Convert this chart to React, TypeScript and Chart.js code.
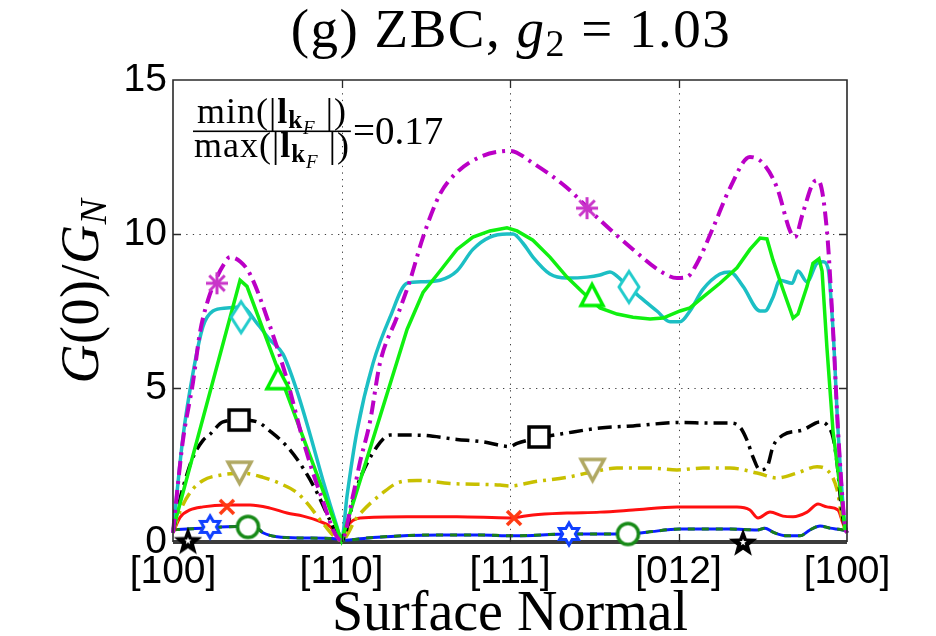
import React, { useEffect, useRef } from 'react';
import { Chart, registerables } from 'chart.js';

Chart.register(...registerables);

const SERIF = '"Liberation Serif", "Times New Roman", serif';
const SANS = '"Liberation Sans", Arial, Helvetica, sans-serif';

const xTickLabels = ['[100]', '[110]', '[111]', '[012]', '[100]'];
const xTickValues = [0, 1, 2, 3, 4];
const yTickValues = [0, 5, 10, 15];

const magentaX = [0, 0.024, 0.059, 0.119, 0.16, 0.208, 0.261, 0.3, 0.338, 0.4, 0.457, 0.576, 0.677, 0.772, 0.872, 1.0, 1.068, 1.11, 1.169, 1.228, 1.329, 1.407, 1.484, 1.585, 1.685, 1.822, 2.0, 2.136, 2.338, 2.534, 2.73, 2.89, 2.991, 3.05, 3.11, 3.205, 3.306, 3.424, 3.501, 3.585, 3.662, 3.691, 3.739, 3.798, 3.828, 3.881, 3.917, 3.947, 3.988, 4.0];
const magentaY = [0.3, 1.6, 3.3, 5.2, 6.8, 7.86, 8.6, 9.0, 9.25, 9.1, 8.7, 7.0, 5.26, 3.3, 1.6, 0.05, 1.5, 2.6, 3.9, 5.8, 7.3, 8.5, 9.9, 11.3, 12.0, 12.5, 12.7, 12.3, 11.5, 10.45, 9.5, 8.8, 8.57, 8.6, 9.05, 10.2, 11.5, 12.5, 12.3, 11.5, 10.1, 9.9, 10.7, 11.65, 11.75, 10.1, 6.9, 3.6, 0.5, 0.3];

const cyanX = [0, 0.059, 0.119, 0.178, 0.237, 0.32, 0.409, 0.499, 0.576, 0.653, 0.736, 0.813, 0.89, 0.973, 1.0, 1.033, 1.092, 1.187, 1.288, 1.389, 1.484, 1.585, 1.685, 1.78, 1.881, 1.982, 2.018, 2.077, 2.136, 2.237, 2.338, 2.457, 2.534, 2.593, 2.671, 2.772, 2.872, 2.95, 3.009, 3.068, 3.145, 3.246, 3.306, 3.383, 3.484, 3.513, 3.561, 3.602, 3.674, 3.709, 3.763, 3.822, 3.858, 3.887, 3.917, 3.947, 3.988, 4.0];
const cyanY = [0.3, 3.4, 5.5, 7.0, 7.5, 7.6, 7.63, 7.1, 6.56, 6.1, 4.9, 3.5, 2.0, 0.5, 0.05, 1.5, 3.6, 5.8, 7.3, 8.4, 8.45, 8.5, 8.8, 9.5, 9.9, 10.0, 10.0, 9.7, 9.25, 8.7, 8.57, 8.6, 8.67, 8.77, 8.45, 7.95, 7.5, 7.15, 7.15, 7.5, 8.2, 8.7, 8.77, 8.3, 7.5, 7.5, 7.95, 8.5, 8.4, 8.8, 8.45, 9.05, 9.1, 8.9, 6.9, 3.6, 0.5, 0.3];

const greenX = [0, 0.398, 0.439, 1.0, 1.389, 1.484, 1.585, 1.685, 1.78, 1.881, 1.982, 2.042, 2.136, 2.237, 2.338, 2.433, 2.534, 2.635, 2.73, 2.831, 2.908, 3.009, 3.068, 3.145, 3.246, 3.347, 3.424, 3.484, 3.525, 3.561, 3.62, 3.68, 3.709, 3.763, 3.798, 3.834, 3.852, 3.881, 3.917, 3.988, 4.0];
const greenY = [0.4, 8.5, 8.3, 0.05, 6.9, 8.1, 8.8, 9.5, 9.9, 10.1, 10.2, 10.1, 9.8, 9.25, 8.6, 8.1, 7.6, 7.4, 7.3, 7.24, 7.27, 7.5, 7.6, 7.95, 8.4, 8.9, 9.5, 9.87, 9.84, 9.15, 8.2, 7.27, 7.4, 8.3, 9.05, 9.2, 8.8, 6.3, 3.6, 0.45, 0.3];

const blackX = [0, 0.042, 0.083, 0.119, 0.178, 0.22, 0.297, 0.398, 0.499, 0.576, 0.677, 0.772, 0.855, 0.932, 1.0, 1.092, 1.211, 1.288, 1.448, 1.685, 1.84, 2.0, 2.042, 2.16, 2.338, 2.534, 2.73, 3.009, 3.187, 3.306, 3.365, 3.407, 3.442, 3.484, 3.525, 3.561, 3.62, 3.739, 3.84, 3.881, 3.917, 3.941, 3.97, 4.0];
const blackY = [0.3, 1.4, 2.2, 2.76, 3.3, 3.5, 3.9, 3.96, 3.9, 3.6, 3.1, 2.4, 1.6, 0.7, 0.05, 1.8, 3.1, 3.47, 3.47, 3.33, 3.25, 3.1, 3.2, 3.37, 3.54, 3.7, 3.77, 3.88, 3.86, 3.86, 3.73, 3.3, 2.76, 2.34, 2.43, 3.1, 3.47, 3.64, 3.9, 3.8, 3.4, 2.56, 0.94, 0.3];

const oliveX = [0, 0.042, 0.101, 0.178, 0.279, 0.415, 0.534, 0.635, 0.736, 0.813, 0.89, 1.0, 1.092, 1.246, 1.347, 1.448, 1.644, 1.941, 2.0, 2.136, 2.338, 2.487, 2.635, 2.831, 2.991, 3.145, 3.306, 3.466, 3.585, 3.703, 3.822, 3.881, 3.941, 3.976, 4.0];
const oliveY = [0.3, 1.0, 1.6, 2.0, 2.17, 2.23, 2.1, 1.9, 1.6, 1.15, 0.6, 0.05, 0.8, 1.6, 1.95, 2.0, 1.9, 1.85, 1.82, 1.95, 2.1, 2.27, 2.4, 2.4, 2.34, 2.4, 2.4, 2.24, 2.08, 2.24, 2.44, 2.34, 1.7, 0.6, 0.3];

const redX = [0, 0.042, 0.101, 0.178, 0.32, 0.457, 0.576, 0.677, 0.772, 0.855, 0.932, 1.0, 1.033, 1.11, 1.389, 1.685, 2.0, 2.136, 2.338, 2.534, 2.73, 2.991, 3.145, 3.347, 3.424, 3.472, 3.543, 3.62, 3.68, 3.763, 3.828, 3.881, 3.947, 3.976, 4.0];
const redY = [0.3, 0.8, 1.04, 1.14, 1.2, 1.2, 1.1, 0.94, 0.84, 0.7, 0.5, 0.05, 0.5, 0.78, 0.82, 0.82, 0.78, 0.88, 0.94, 0.97, 1.04, 1.14, 1.14, 1.14, 1.04, 0.78, 0.97, 0.84, 0.82, 0.97, 1.23, 1.14, 1.04, 0.6, 0.3];

const blueX = [0, 0.083, 0.178, 0.38, 0.499, 0.534, 0.617, 0.772, 0.973, 1.0, 1.187, 1.585, 1.822, 2.018, 2.356, 2.694, 2.813, 3.009, 3.306, 3.466, 3.513, 3.561, 3.644, 3.721, 3.78, 3.84, 3.899, 3.976, 4.0];
const blueY = [0.4, 0.42, 0.45, 0.5, 0.45, 0.3, 0.17, 0.13, 0.1, 0.05, 0.15, 0.23, 0.23, 0.2, 0.26, 0.26, 0.32, 0.42, 0.42, 0.39, 0.45, 0.32, 0.2, 0.2, 0.39, 0.52, 0.45, 0.39, 0.35];

const zeroX = [0, 4];
const zeroY = [0, 0];

const asteriskX = [0.261, 2.457];
const asteriskY = [8.4, 10.84];
const diamondX = [0.404, 2.706];
const diamondY = [7.3, 8.28];
const triUpX = [0.623, 2.487];
const triUpY = [5.32, 8.02];
const squareX = [0.392, 2.172];
const squareY = [3.96, 3.41];
const triDownX = [0.395, 2.49];
const triDownY = [2.25, 2.34];
const crossX = [0.32, 2.024];
const crossY = [1.14, 0.78];
const hexX = [0.22, 2.35];
const hexY = [0.49, 0.26];
const circleX = [0.445, 2.7];
const circleY = [0.49, 0.26];
const pentaX = [0.089, 3.383];
const pentaY = [0.05, 0];

function pts(xs: number[], ys: number[]) {
  return xs.map((x, i) => ({ x, y: ys[i] }));
}

function makeMarker(kind: string, color: string, w: number, h: number, lw: number): HTMLCanvasElement {
  const pad = Math.ceil(lw) + 2;
  const c = document.createElement('canvas');
  c.width = Math.ceil(w + pad * 2);
  c.height = Math.ceil(h + pad * 2);
  const g = c.getContext('2d') as CanvasRenderingContext2D;
  g.translate(c.width / 2, c.height / 2);
  g.lineWidth = lw;
  g.strokeStyle = color;
  g.fillStyle = '#ffffff';
  g.lineJoin = 'miter';
  const rx = w / 2;
  const ry = h / 2;
  const poly = (p: number[][]) => {
    g.beginPath();
    p.forEach((q, i) => (i ? g.lineTo(q[0], q[1]) : g.moveTo(q[0], q[1])));
    g.closePath();
  };
  if (kind === 'asterisk') {
    g.lineCap = 'butt';
    for (let k = 0; k < 4; k++) {
      const a = (k * Math.PI) / 4;
      g.beginPath();
      g.moveTo(-Math.cos(a) * rx, -Math.sin(a) * ry);
      g.lineTo(Math.cos(a) * rx, Math.sin(a) * ry);
      g.stroke();
    }
  } else if (kind === 'diamond') {
    poly([[0, -ry], [rx, 0], [0, ry], [-rx, 0]]);
    g.fill();
    g.stroke();
  } else if (kind === 'triUp') {
    poly([[0, -ry], [rx, ry], [-rx, ry]]);
    g.fill();
    g.stroke();
  } else if (kind === 'triDown') {
    poly([[-rx, -ry], [rx, -ry], [0, ry]]);
    g.fill();
    g.stroke();
  } else if (kind === 'square') {
    g.beginPath();
    g.rect(-rx, -ry, w, h);
    g.fill();
    g.stroke();
  } else if (kind === 'cross') {
    g.lineCap = 'butt';
    g.beginPath();
    g.moveTo(-rx, -ry);
    g.lineTo(rx, ry);
    g.moveTo(rx, -ry);
    g.lineTo(-rx, ry);
    g.stroke();
  } else if (kind === 'circle') {
    g.beginPath();
    g.arc(0, 0, rx, 0, Math.PI * 2);
    g.fill();
    g.stroke();
  } else if (kind === 'hex') {
    const p: number[][] = [];
    for (let k = 0; k < 12; k++) {
      const a = -Math.PI / 2 + (k * Math.PI) / 6;
      const r = k % 2 === 0 ? rx : rx / Math.sqrt(3);
      p.push([Math.cos(a) * r, Math.sin(a) * r]);
    }
    poly(p);
    g.fill();
    g.stroke();
  } else if (kind === 'penta') {
    const star = (R: number, fill: string) => {
      const p: number[][] = [];
      for (let k = 0; k < 10; k++) {
        const a = -Math.PI / 2 + (k * Math.PI) / 5;
        const r = k % 2 === 0 ? R : R * 0.42;
        p.push([Math.cos(a) * r, Math.sin(a) * r + R * 0.1]);
      }
      poly(p);
      g.fillStyle = fill;
      g.fill();
    };
    star(rx, color);
    star(rx * 0.25, '#ffffff');
  }
  return c;
}

type Piece = { t: string; f: string; dy?: number };

function piecesWidth(ctx: CanvasRenderingContext2D, ps: Piece[]) {
  let w = 0;
  for (const p of ps) {
    ctx.font = p.f;
    w += ctx.measureText(p.t).width;
  }
  return w;
}

function drawPieces(ctx: CanvasRenderingContext2D, ps: Piece[], x: number, y: number) {
  let cx = x;
  for (const p of ps) {
    ctx.font = p.f;
    ctx.fillText(p.t, cx, y + (p.dy || 0));
    cx += ctx.measureText(p.t).width;
  }
}

const decorPlugin = {
  id: 'decor',
  beforeDatasetsDraw(chart: any) {
    const { ctx, chartArea: a, scales } = chart;
    const xs = scales.x;
    const ys = scales.y;
    ctx.save();
    ctx.strokeStyle = '#404040';
    ctx.lineWidth = 1;
    ctx.setLineDash([1.3, 5.3]);
    for (const v of xTickValues.slice(1, -1)) {
      const px = Math.round(xs.getPixelForValue(v)) + 0.5;
      ctx.beginPath();
      ctx.moveTo(px, a.top);
      ctx.lineTo(px, a.bottom);
      ctx.stroke();
    }
    for (const v of yTickValues.slice(1, -1)) {
      const py = Math.round(ys.getPixelForValue(v)) + 0.5;
      ctx.beginPath();
      ctx.moveTo(a.left, py);
      ctx.lineTo(a.right, py);
      ctx.stroke();
    }
    ctx.restore();
  },
  afterDatasetsDraw(chart: any) {
    const { ctx, chartArea: a, scales } = chart;
    const xs = scales.x;
    const ys = scales.y;
    ctx.save();
    ctx.strokeStyle = '#2a2a2a';
    ctx.lineWidth = 1.6;
    ctx.beginPath();
    ctx.moveTo(a.left, a.bottom);
    ctx.lineTo(a.left, a.top);
    ctx.lineTo(a.right, a.top);
    ctx.lineTo(a.right, a.bottom);
    ctx.stroke();
    ctx.lineWidth = 1.3;
    const tl = 8;
    for (const v of xTickValues.slice(1, -1)) {
      const px = Math.round(xs.getPixelForValue(v)) + 0.5;
      ctx.beginPath();
      ctx.moveTo(px, a.top);
      ctx.lineTo(px, a.top + tl);
      ctx.moveTo(px, a.bottom);
      ctx.lineTo(px, a.bottom - tl);
      ctx.stroke();
    }
    for (const v of yTickValues.slice(1, -1)) {
      const py = Math.round(ys.getPixelForValue(v)) + 0.5;
      ctx.beginPath();
      ctx.moveTo(a.left, py);
      ctx.lineTo(a.left + tl, py);
      ctx.moveTo(a.right, py);
      ctx.lineTo(a.right - tl, py);
      ctx.stroke();
    }
    ctx.fillStyle = '#000';
    ctx.textBaseline = 'alphabetic';
    ctx.textAlign = 'left';
    const c2: any = ctx;

    // title
    c2.letterSpacing = '1.5px';
    const title: Piece[] = [
      { t: '(g) ZBC, ', f: `55px ${SERIF}` },
      { t: 'g', f: `italic 55px ${SERIF}` },
      { t: '2', f: `38px ${SERIF}`, dy: 9 },
      { t: ' = 1.03', f: `55px ${SERIF}` },
    ];
    const tw = piecesWidth(ctx, title);
    drawPieces(ctx, title, 511 - tw / 2, 47);

    // y label
    c2.letterSpacing = '0.5px';
    const ylab: Piece[] = [
      { t: 'G', f: `italic 54px ${SERIF}` },
      { t: '(0)/', f: `54px ${SERIF}` },
      { t: 'G', f: `italic 54px ${SERIF}` },
      { t: 'N', f: `italic 38px ${SERIF}`, dy: 8 },
    ];
    const yw = piecesWidth(ctx, ylab);
    ctx.save();
    ctx.translate(98, 291);
    ctx.rotate(-Math.PI / 2);
    drawPieces(ctx, ylab, -yw / 2, 0);
    ctx.restore();

    // min/max fraction annotation
    c2.letterSpacing = '1px';
    const fs = 36;
    const num: Piece[] = [
      { t: 'min(|', f: `${fs}px ${SERIF}` },
      { t: 'l', f: `bold ${fs}px ${SERIF}` },
      { t: 'k', f: `bold 25px ${SERIF}`, dy: 5 },
      { t: 'F', f: `italic 19px ${SERIF}`, dy: 11 },
      { t: ' |)', f: `${fs}px ${SERIF}` },
    ];
    const den: Piece[] = [
      { t: 'max(|', f: `${fs}px ${SERIF}` },
      { t: 'l', f: `bold ${fs}px ${SERIF}` },
      { t: 'k', f: `bold 25px ${SERIF}`, dy: 5 },
      { t: 'F', f: `italic 19px ${SERIF}`, dy: 11 },
      { t: ' |)', f: `${fs}px ${SERIF}` },
    ];
    const nw = piecesWidth(ctx, num);
    const dw = piecesWidth(ctx, den);
    const bw = Math.max(nw, dw) + 2;
    const bx = 193;
    drawPieces(ctx, num, bx + (bw - nw) / 2, 123);
    drawPieces(ctx, den, bx + (bw - dw) / 2, 157);
    ctx.fillRect(bx, 130.5, bw, 1.6);
    c2.letterSpacing = '0px';
    ctx.font = `39px ${SERIF}`;
    ctx.fillText('=0.17', bx + bw + 2, 144);
    ctx.restore();
  },
};

export default function App() {
  const ref = useRef<HTMLCanvasElement>(null);
  useEffect(() => {
    const canvas = ref.current as HTMLCanvasElement;
    const mk = {
      asterisk: makeMarker('asterisk', '#c935c9', 22, 22, 3),
      diamond: makeMarker('diamond', '#22cccc', 20, 31, 3),
      triUp: makeMarker('triUp', '#00f000', 22, 21, 3.5),
      square: makeMarker('square', '#000000', 20, 20, 3.5),
      triDown: makeMarker('triDown', '#b0a862', 23, 21, 3.5),
      cross: makeMarker('cross', '#ff3a12', 14, 14, 3.5),
      hex: makeMarker('hex', '#1040ff', 22, 22, 3),
      circle: makeMarker('circle', '#178a17', 21, 21, 3.5),
      penta: makeMarker('penta', '#000000', 30, 30, 1),
    };
    const markerSet = (xs: number[], ys: number[], img: HTMLCanvasElement) => ({
      data: pts(xs, ys),
      showLine: false,
      pointStyle: img,
      pointRadius: 10,
      pointHoverRadius: 10,
      clip: false,
    });
    const lineSet = (xs: number[], ys: number[], color: string, width: number, dash: number[] = [], smooth = true) => ({
      data: pts(xs, ys),
      borderColor: color,
      borderWidth: width,
      borderDash: dash,
      pointRadius: 0,
      pointHoverRadius: 0,
      tension: 0,
      cubicInterpolationMode: smooth ? 'monotone' : 'default',
      fill: false,
      clip: false,
    });
    const chart = new Chart(canvas, {
      type: 'line',
      data: {
        datasets: [
          markerSet(asteriskX, asteriskY, mk.asterisk),
          markerSet(diamondX, diamondY, mk.diamond),
          markerSet(triUpX, triUpY, mk.triUp),
          markerSet(squareX, squareY, mk.square),
          markerSet(triDownX, triDownY, mk.triDown),
          markerSet(crossX, crossY, mk.cross),
          markerSet(hexX, hexY, mk.hex),
          markerSet(circleX, circleY, mk.circle),
          markerSet(pentaX, pentaY, mk.penta),
          lineSet(magentaX, magentaY, '#bb00c6', 4, [14, 6, 3, 6]),
          lineSet(greenX, greenY, '#10f010', 3.5, [], false),
          lineSet(cyanX, cyanY, '#1cbfc4', 3.5),
          lineSet(blackX, blackY, '#000000', 3.5, [14, 6, 3, 6]),
          lineSet(oliveX, oliveY, '#c8c000', 3.5, [14, 6, 3, 6]),
          lineSet(redX, redY, '#ff1010', 3),
          lineSet(blueX, blueY, '#1a7f1a', 3, [7, 7]),
          lineSet(blueX, blueY, '#0a1eff', 3),
          lineSet(zeroX, zeroY, '#3c3c3c', 4, [], false),
        ] as any,
      },
      options: {
        responsive: false,
        animation: false,
        events: [],
        layout: { padding: { top: 80, right: 89, left: 0, bottom: 0 } },
        plugins: {
          legend: { display: false },
          tooltip: { enabled: false },
          title: { display: false },
        },
        scales: {
          x: {
            type: 'linear',
            min: 0,
            max: 4,
            afterFit: (s: any) => {
              s.height = 94;
            },
            afterBuildTicks: (s: any) => {
              s.ticks = xTickValues.map((v) => ({ value: v }));
            },
            ticks: {
              autoSkip: false,
              maxRotation: 0,
              padding: 7,
              color: '#000',
              font: { family: SANS, size: 39 },
              callback: (v: any) => xTickLabels[Math.round(Number(v))],
            },
            grid: { display: false, drawTicks: false },
            border: { display: false },
            title: {
              display: true,
              text: 'Surface Normal',
              color: '#000',
              font: { family: SERIF, size: 56, lineHeight: 0.6 },
              padding: { top: 0, bottom: 4 },
            },
          },
          y: {
            type: 'linear',
            min: 0,
            max: 15,
            afterFit: (s: any) => {
              s.width = 173;
            },
            afterBuildTicks: (s: any) => {
              s.ticks = yTickValues.map((v) => ({ value: v }));
            },
            ticks: {
              padding: 6,
              color: '#000',
              font: { family: SANS, size: 39 },
              callback: (v: any) => String(v),
            },
            grid: { display: false, drawTicks: false },
            border: { display: false },
          },
        },
      } as any,
      plugins: [decorPlugin],
    });
    return () => chart.destroy();
  }, []);
  return (
    <div style={{ position: 'fixed', left: 0, top: 0, width: 936, height: 636, background: '#ffffff' }}>
      <canvas ref={ref} width={936} height={636} style={{ display: 'block', width: 936, height: 636 }} />
    </div>
  );
}
